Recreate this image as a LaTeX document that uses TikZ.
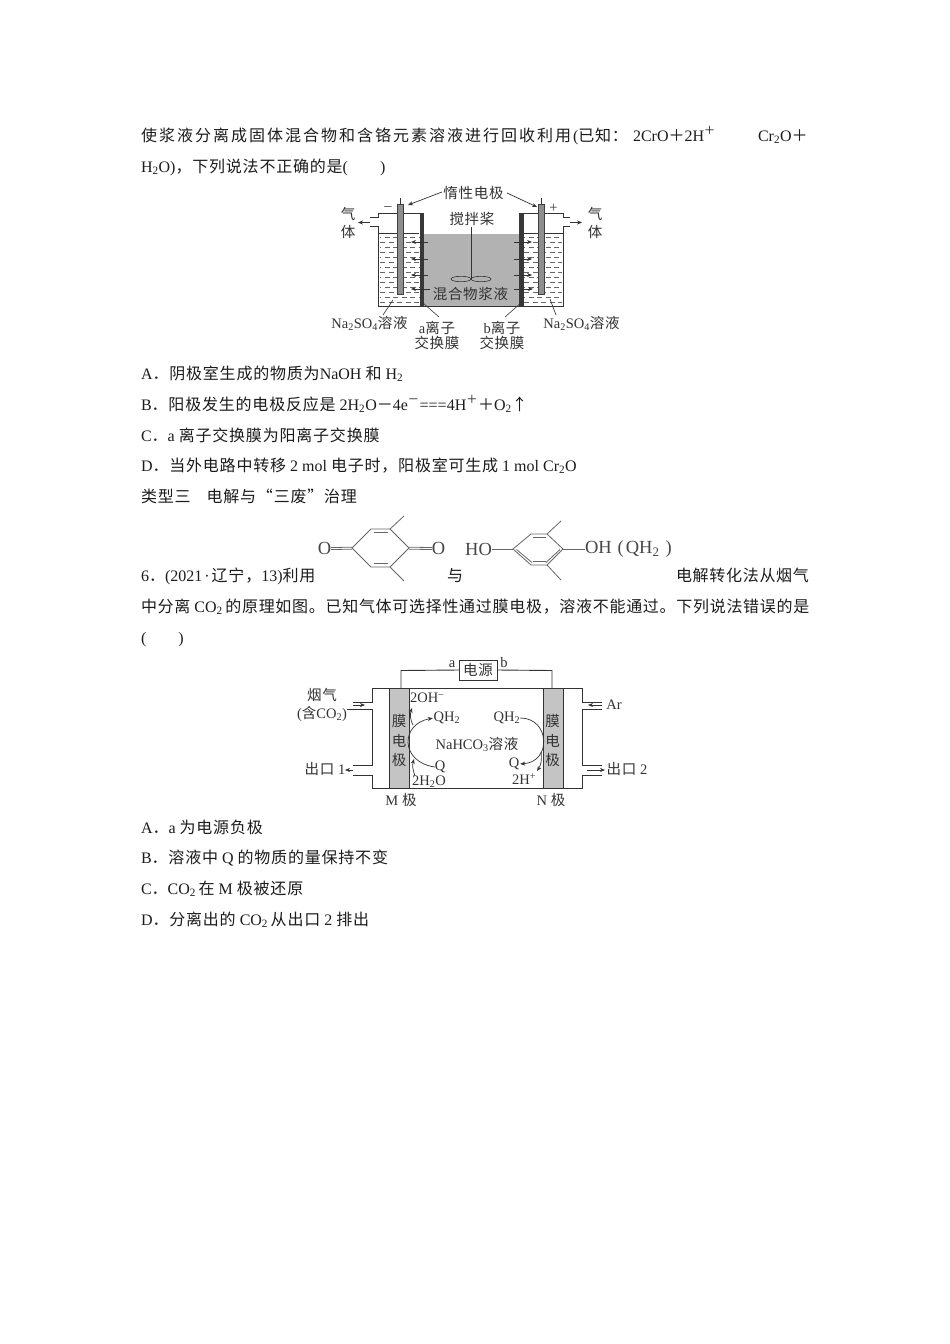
\documentclass[tikz,border=0pt]{standalone}
\usepackage{fontspec}
\setmainfont{Liberation Serif}
\newfontfamily\cjk{Noto Sans CJK SC}[LetterSpace=5]
\newfontfamily\cjkw{Noto Sans CJK SC}[LetterSpace=12.5]
\newfontfamily\cjkx{Noto Sans CJK SC}[LetterSpace=4.4]
\usetikzlibrary{arrows.meta}
\newcommand{\C}[1]{{\cjk #1}}
\newcommand{\W}[1]{{\cjkw #1}}
\newcommand{\X}[1]{{\cjkx #1}}
\newcommand{\tdn}[1]{\textsubscript{#1}}
\newcommand{\tup}[1]{\textsuperscript{#1}}
\definecolor{ink}{HTML}{1C1C1C}
\definecolor{dink}{HTML}{333333}
\definecolor{slurry}{HTML}{B2B2B2}
\definecolor{memb}{HTML}{C4C4C4}
\definecolor{elec}{HTML}{8E8E8E}
\tikzset{
 x=1pt,y=-1pt,
 body/.style={anchor=base west,inner sep=0pt,outer sep=0pt,text=ink,font=\fontsize{16}{16}\selectfont},
 lab/.style={inner sep=0pt,outer sep=0pt,text=dink,font=\fontsize{14.5}{14.5}\selectfont},
 mol/.style={inner sep=0pt,outer sep=0pt,text=black!72,font=\fontsize{18.5}{18.5}\selectfont},
 wire/.style={draw=dink,line width=0.9pt},
 arr/.style={draw=dink,line width=0.7pt,-{Stealth[length=5pt,width=4pt]}},
 lead/.style={draw=dink,line width=0.6pt},
 bond/.style={draw=black!60,line width=0.8pt},
}
\begin{document}
\begin{tikzpicture}
\useasboundingbox[fill=white] (0,0) rectangle (950,1344);
% ---------- body text ----------
\node[body] (t1a) at (141,141) {\W{使浆液分离成固体混合物和含铬元素溶液进行回收利用}};
\node[body] (t1b) at (573,141) {(\C{已知：}};
\node[body] (t1c) at (633,141) {2CrO\C{＋}2H\tup{\C{＋}}};
\node[body] (t1d) at (758,141) {Cr\tdn{2}O\C{＋}};
\node[body] (t2) at (141,172) {H\tdn{2}O)\C{，下列说法不正确的是}(\hspace{2em})};
\node[body] (oA) at (141,379) {A\C{．阴极室生成的物质为}NaOH \C{和} H\tdn{2}};
\node[body] (oB) at (141,410) {B\C{．阳极发生的电极反应是} 2H\tdn{2}O\C{－}4e\tup{\C{－}}===4H\tup{\C{＋}}\C{＋}O\tdn{2}\C{↑}};
\node[body] (oC) at (141,441) {C\C{．}a \C{离子交换膜为阳离子交换膜}};
\node[body] (oD) at (141,471) {D\C{．当外电路中转移} 2 mol \C{电子时，阳极室可生成} 1 mol Cr\tdn{2}O};
\node[body] (h3) at (141,502) {\C{类型三\hspace{1em}电解与“三废”治理}};
\node[body] (q6a) at (141,581) {6\C{．}(2021\hspace{2pt}·\hspace{2pt}\C{辽宁，}13)\C{利用}};
\node[body] (q6b) at (447,581) {\C{与}};
\node[body] (q6c) at (676,581) {\X{电解转化法从烟气}};
\node[body] (q7) at (141,612) {\X{中分离} CO\tdn{2}\,\X{的原理如图。已知气体可选择性通过膜电极，溶液不能通过。下列说法错误的是}};
\node[body] (q8) at (141,643) {(\hspace{2em})};
\node[body] (pA) at (141,833) {A\C{．}a \C{为电源负极}};
\node[body] (pB) at (141,863) {B\C{．溶液中} Q \C{的物质的量保持不变}};
\node[body] (pC) at (141,894) {C\C{．}CO\tdn{2}\,\C{在} M \C{极被还原}};
\node[body] (pD) at (141,925) {D\C{．分离出的} CO\tdn{2}\,\C{从出口} 2 \C{排出}};

% ---------- figure 1 : cell ----------
\fill[slurry] (423,234) rectangle (519,306);
\foreach \yy [count=\i] in {237,242,247,252,257,262,267,272,277,282,287,292,297,302}{
  \pgfmathsetmacro{\off}{mod(\i,2)*4}
  \draw[draw=black!60,line width=0.5pt,dash pattern=on 5pt off 3.5pt,dash phase=\off] (380,\yy) -- (419,\yy);
  \draw[draw=black!60,line width=0.5pt,dash pattern=on 5pt off 3.5pt,dash phase=\off] (524,\yy) -- (562,\yy);
}
\draw[wire] (370,217) -- (378,217) -- (378,213) -- (420,213);
\draw[wire] (370,226) -- (378,226) -- (378,306) -- (563,306) -- (563,226) -- (570,226);
\draw[wire] (522,213) -- (563,213) -- (563,217) -- (570,217);
\draw[wire] (378,233) -- (419,233);
\draw[wire] (523,233) -- (563,233);
\fill[black!78] (419.5,213) rectangle (423.5,306);
\fill[black!78] (519,213) rectangle (523.5,306);
\draw[wire] (400,198) -- (400,204);
\draw[wire] (541,198) -- (541,204);
\draw[draw=black!75,fill=elec,line width=0.6pt] (397,204) rectangle (403,294);
\draw[draw=black!75,fill=elec,line width=0.6pt] (538,204) rectangle (544,294);
\foreach \yy in {242,259,275}{
  \draw[arr] (428,\yy) -- (411,\yy);
  \draw[arr] (514,\yy) -- (532,\yy);
}
\draw[arr] (430,289) -- (411,289);
\draw[arr] (514,289) -- (533,289);
% stirrer
\coordinate (hub) at (471,279);
\draw[draw=dink,line width=0.6pt] (471,227) -- (hub);
\draw[draw=dink,line width=0.6pt] (461,279) ellipse (10 and 2.7);
\draw[draw=dink,line width=0.6pt] (481,279) ellipse (10 and 2.7);
% labels
\node[lab] (inert) at (473.5,193) {\C{惰性电极}};
\coordinate (eL) at (408,205); \coordinate (eR) at (537,207);
\draw[arr] (442,192) -- (eL);
\draw[arr] (507,193) -- (eR);
\node[lab] (minus) at (388,208.5) {–};
\node[lab] (plus) at (553.5,208) {+};
\node[lab] (stir) at (472,219) {\C{搅拌桨}};
\node[lab] (slur) at (470.5,294) {\C{混合物浆液}};
\node[lab] (qiL) at (348,214) {\C{气}};
\node[lab] (tiL) at (348,232) {\C{体}};
\node[lab] (qiR) at (595,214) {\C{气}};
\node[lab] (tiR) at (595,232) {\C{体}};
\coordinate (gL) at (358,222.5); \coordinate (gR) at (582,222.5);
\draw[arr] (370,222.5) -- (gL);
\draw[arr] (570,222.5) -- (gR);
\node[lab] (naL) at (369.5,323) {Na\tdn{2}SO\tdn{4}\C{溶液}};
\node[lab] (naR) at (581.5,323) {Na\tdn{2}SO\tdn{4}\C{溶液}};
\node[lab] (aM1) at (437,327.5) {a\C{离子}};
\node[lab] (aM2) at (437,343) {\C{交换膜}};
\node[lab] (bM1) at (502,327.5) {b\C{离子}};
\node[lab] (bM2) at (502,343) {\C{交换膜}};
\draw[lead] (393,300) -- (383,315);
\draw[lead] (423,303) -- (439,317);
\draw[lead] (522,302) -- (505,317);
\draw[lead] (550,299) -- (556,315);

% ---------- molecules ----------
\coordinate (A1) at (352,548); \coordinate (A2) at (371,529); \coordinate (A3) at (390,529);
\coordinate (A4) at (409,548); \coordinate (A5) at (390,567); \coordinate (A6) at (371,567);
\draw[bond] (A1) -- (A2) -- (A3) -- (A4) -- (A5) -- (A6) -- cycle;
\draw[bond] (373.5,532.5) -- (387.5,532.5);
\draw[bond] (373.5,563.5) -- (387.5,563.5);
\draw[bond] (A3) -- (404,516);
\draw[bond] (A5) -- (404,581);
\node[mol] (Ol) at (324.5,548.5) {O};
\node[mol] (Or) at (438.5,548.5) {O};
\draw[bond] (Ol.east) ++(0,-1) -- (352,547.2);
\draw[bond] (Ol.east) ++(0,1) -- (352,549.2);
\draw[bond] (Or.west) ++(0,-1) -- (409,547.2);
\draw[bond] (Or.west) ++(0,1) -- (409,549.2);
\coordinate (B1) at (513,549); \coordinate (B2) at (531,534); \coordinate (B3) at (547,534);
\coordinate (B4) at (563,549); \coordinate (B5) at (547,565); \coordinate (B6) at (531,565);
\draw[bond] (B1) -- (B2) -- (B3) -- (B4) -- (B5) -- (B6) -- cycle;
\draw[bond] (532.5,537) -- (545.5,537);
\draw[bond] (532.5,561.5) -- (545.5,561.5);
\draw[bond] (516.5,549.5) -- (532,562.5);
\draw[bond] (560,549.5) -- (546,562.5);
\draw[bond] (B3) -- (561,521);
\draw[bond] (B5) -- (561,580);
\node[mol] (HO) at (478.5,549) {HO};
\node[mol,anchor=west] (OH) at (585,549) {OH\hspace{6pt}(\hspace{2pt}QH\tdn{2}\hspace{6pt})};
\draw[bond] (HO.east) -- (B1);
\draw[bond] (B4) -- (OH.west);

% ---------- figure 2 ----------
\fill[memb] (389,688) rectangle (409,788);
\fill[memb] (543,688) rectangle (563,788);
\node[lab,draw=dink,line width=0.9pt,minimum width=38pt,minimum height=20pt] (psu) at (478,670) {\C{电源}};
\coordinate (wL) at (401,688); \coordinate (wR) at (552,688);
\draw[wire] (psu.west) -- (401,670.5) -- (wL);
\draw[wire] (psu.east) -- (552,670.5) -- (wR);
\draw[wire] (353,702) -- (372,702) -- (372,688) -- (582,688) -- (582,702) -- (602,702);
\draw[wire] (347,709.5) -- (372,709.5) -- (372,765) -- (353,765);
\draw[wire] (353,775) -- (372,775) -- (372,788) -- (582,788) -- (582,775) -- (602,775);
\draw[wire] (602,709.5) -- (582,709.5) -- (582,765) -- (602,765);
\draw[wire] (389,688) -- (389,788);
\draw[wire] (409,688) -- (409,788);
\draw[wire] (543,688) -- (543,788);
\draw[wire] (563,688) -- (563,788);
\node[lab] (a1) at (399,721) {\C{膜}};
\node[lab] (a2) at (399,741) {\C{电}};
\node[lab] (a3) at (399,760) {\C{极}};
\node[lab] (b1) at (552.5,721) {\C{膜}};
\node[lab] (b2) at (552.5,741) {\C{电}};
\node[lab] (b3) at (552.5,760) {\C{极}};
\node[lab] (la) at (452,664) {a};
\node[lab] (lb) at (504,663) {b};
\node[lab] (smoke1) at (322,695) {\C{烟气}};
\node[lab] (smoke2) at (322,714) {(\C{含}CO\tdn{2})};
\node[lab] (Ar) at (614,705) {Ar};
\node[lab] (out1) at (325,769) {\C{出口} 1};
\node[lab] (out2) at (627,769) {\C{出口} 2};
\node[lab] (oh) at (427,698) {2OH\tup{–}};
\node[lab] (qh1) at (447,718) {QH\tdn{2}};
\node[lab] (nah) at (477,744) {NaHCO\tdn{3}\C{溶液}};
\node[lab] (q1) at (440,767) {Q};
\node[lab] (wat) at (429,782) {2H\tdn{2}O};
\node[lab] (qh2) at (507,718) {QH\tdn{2}};
\node[lab] (q2) at (514,764) {Q};
\node[lab] (hp) at (524,779) {2H\tup{+}};
\node[lab] (mj) at (401,800) {M \C{极}};
\node[lab] (nj) at (551,800) {N \C{极}};
\draw[arr] (353,705) -- (365,705);
\draw[arr] (602,705) -- (588,705);
\draw[arr] (353,770) -- (345,770);
\draw[arr] (587,770) -- (605,770);
\draw[arr,shorten >=1pt] (q1.west) .. controls (400,762) and (400,724) .. (qh1.west);
\draw[arr] (415,776) .. controls (413,770) and (412,766) .. (414,759);
\draw[arr] (413,725) .. controls (410,720) and (410,714) .. (412,708);
\draw[arr,shorten >=1pt] (qh2.east) .. controls (550,718) and (552,762) .. (q2.east);
\draw[arr] (541,752) .. controls (542,760) and (541,765) .. (537,771);
\end{tikzpicture}
\end{document}
